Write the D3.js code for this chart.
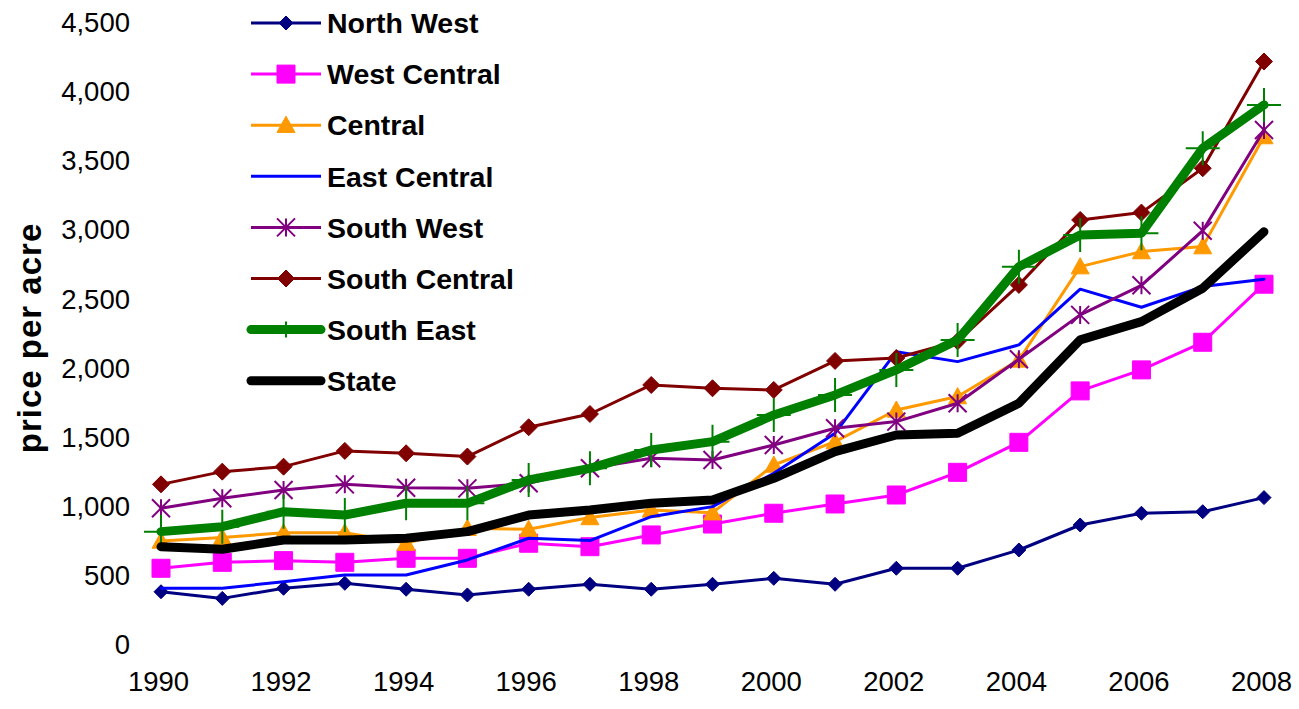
<!DOCTYPE html>
<html>
<head>
<meta charset="utf-8">
<script src="https://cdn.jsdelivr.net/npm/d3@7"></script>
<style>
html,body{margin:0;padding:0;background:#fff;}
svg{display:block;}
</style>
</head>
<body>
<svg id="chart" width="1299" height="709"></svg>
<script>
const years = [1990,1991,1992,1993,1994,1995,1996,1997,1998,1999,2000,2001,2002,2003,2004,2005,2006,2007,2008];
const xTickLabels = [1990,1992,1994,1996,1998,2000,2002,2004,2006,2008];
const yTickLabels = [0,500,1000,1500,2000,2500,3000,3500,4000,4500];

const northWest    = [378,330,403,439,396,355,396,432,396,432,475,432,548,548,680,861,946,957,1059];
const westCentral  = [548,591,603,591,620,620,729,704,789,868,946,1013,1078,1242,1459,1831,1983,2183,2603];
const central      = [745,770,805,805,730,837,830,915,970,950,1295,1464,1693,1790,2055,2730,2839,2875,3671];
const eastCentral  = [403,403,451,499,499,608,765,748,921,994,1235,1525,2115,2043,2164,2567,2436,2586,2639];
const southWest    = [982,1054,1114,1155,1131,1126,1163,1271,1344,1331,1440,1561,1609,1742,2060,2381,2595,2990,3719];
const southCentral = [1155,1247,1283,1397,1380,1356,1568,1664,1874,1850,1838,2048,2069,2190,2598,3068,3121,3442,4214];
const southEast    = [813,849,957,933,1018,1018,1187,1271,1404,1464,1657,1802,1983,2200,2730,2959,2972,3587,3900];
const state        = [704,685,752,752,765,813,933,970,1018,1042,1199,1392,1512,1525,1742,2200,2332,2574,2983];

const seriesNames = ["North West","West Central","Central","East Central","South West","South Central","South East","State"];
const seriesValues = [northWest,westCentral,central,eastCentral,southWest,southCentral,southEast,state];

// styles (kept separate from data)
const styles = [
  {color:"#000080", width:3, marker:"diamond", size:14},
  {color:"#FF00FF", width:3, marker:"square", size:18},
  {color:"#FF9900", width:3, marker:"triangle", size:18},
  {color:"#0000FF", width:3, marker:"none", size:0},
  {color:"#800080", width:3, marker:"asterisk", size:18},
  {color:"#800000", width:3, marker:"diamond", size:17},
  {color:"#008000", width:9, marker:"plus", size:34},
  {color:"#000000", width:9, marker:"none", size:0}
];

const svg = d3.select("#chart");
const x = d3.scaleLinear().domain([1990,2008]).range([161,1264]);
const y = d3.scaleLinear().domain([0,4500]).range([644,22]);

const FONT = "'Liberation Sans', Arial, sans-serif";

// custom symbol types
const diamondType = { draw(ctx, s){ const r = s/2; ctx.moveTo(0,-r); ctx.lineTo(r,0); ctx.lineTo(0,r); ctx.lineTo(-r,0); ctx.closePath(); } };
const squareType = { draw(ctx, s){ const r = s/2; ctx.rect(-r,-r,s,s); } };
const triangleType = { draw(ctx, s){ const r = s/2; ctx.moveTo(0,-r); ctx.lineTo(r,r*0.8); ctx.lineTo(-r,r*0.8); ctx.closePath(); } };
const asteriskType = { draw(ctx, s){ const r = s/2; ctx.moveTo(-r,-r); ctx.lineTo(r,r); ctx.moveTo(r,-r); ctx.lineTo(-r,r); ctx.moveTo(0,-r); ctx.lineTo(0,r); } };
const plusType = { draw(ctx, s){ const r = s/2; ctx.moveTo(-r,0); ctx.lineTo(r,0); ctx.moveTo(0,-r); ctx.lineTo(0,r); } };
const typeMap = {diamond:diamondType, square:squareType, triangle:triangleType, asterisk:asteriskType, plus:plusType};

function drawMarker(g, st, cx, cy, sizeOverride){
  if (st.marker === "none") return;
  const sz = sizeOverride || st.size;
  const path = d3.symbol().type(typeMap[st.marker]).size(sz)();
  const stroked = (st.marker === "asterisk" || st.marker === "plus");
  g.append("path")
    .attr("d", path)
    .attr("transform", `translate(${cx},${cy})`)
    .attr("fill", stroked ? "none" : st.color)
    .attr("stroke", st.color)
    .attr("stroke-width", stroked ? 2 : 1);
}

// axes
const yAxis = d3.axisLeft(y).tickValues(yTickLabels).tickSize(0).tickPadding(0).tickFormat(d3.format(","));
const yG = svg.append("g").attr("transform","translate(130,0)").call(yAxis);
yG.select(".domain").remove();
yG.selectAll("text").attr("font-family", FONT).attr("font-size", 27.5).attr("fill","#000").attr("dy","0.35em");

const xAxis = d3.axisBottom(x).tickValues(xTickLabels).tickSize(0).tickPadding(0).tickFormat(d3.format("d"));
const xG = svg.append("g").attr("transform","translate(-3,671)").call(xAxis);
xG.select(".domain").remove();
xG.selectAll("text").attr("font-family", FONT).attr("font-size", 27.5).attr("fill","#000").attr("dy","0.71em");

// y title
svg.append("text")
  .attr("transform","translate(29,338) rotate(-90)")
  .attr("text-anchor","middle")
  .attr("dominant-baseline","central")
  .attr("font-family", FONT)
  .attr("font-weight","bold")
  .attr("font-size", 33)
  .attr("letter-spacing", "1")
  .attr("fill","#000")
  .text("price per acre");

// series
const line = d3.line().x((d,i)=>x(years[i])).y(d=>y(d));
seriesValues.forEach((vals, k) => {
  const st = styles[k];
  const g = svg.append("g");
  g.append("path")
    .attr("d", line(vals))
    .attr("fill","none")
    .attr("stroke", st.color)
    .attr("stroke-width", st.width)
    .attr("stroke-linejoin","round")
    .attr("stroke-linecap","round");
  vals.forEach((v,i) => drawMarker(g, st, x(years[i]), y(v)));
});

// legend
const legendY0 = 23, legendStep = 51.1;
seriesNames.forEach((name, k) => {
  const st = styles[k];
  const ly = legendY0 + k*legendStep;
  const g = svg.append("g");
  g.append("line")
    .attr("x1", 251).attr("x2", 321).attr("y1", ly).attr("y2", ly)
    .attr("stroke", st.color).attr("stroke-width", st.width)
    .attr("stroke-linecap", st.width > 5 ? "round" : "butt");
  if (st.marker === "plus") {
    drawMarker(g, st, 286, ly, 16);
  } else {
    drawMarker(g, st, 286, ly);
  }
  g.append("text")
    .attr("x", 327).attr("y", ly)
    .attr("dy","0.36em")
    .attr("font-family", FONT)
    .attr("font-weight","bold")
    .attr("font-size", 28.5)
    .attr("fill","#000")
    .text(name);
});
</script>
</body>
</html>
